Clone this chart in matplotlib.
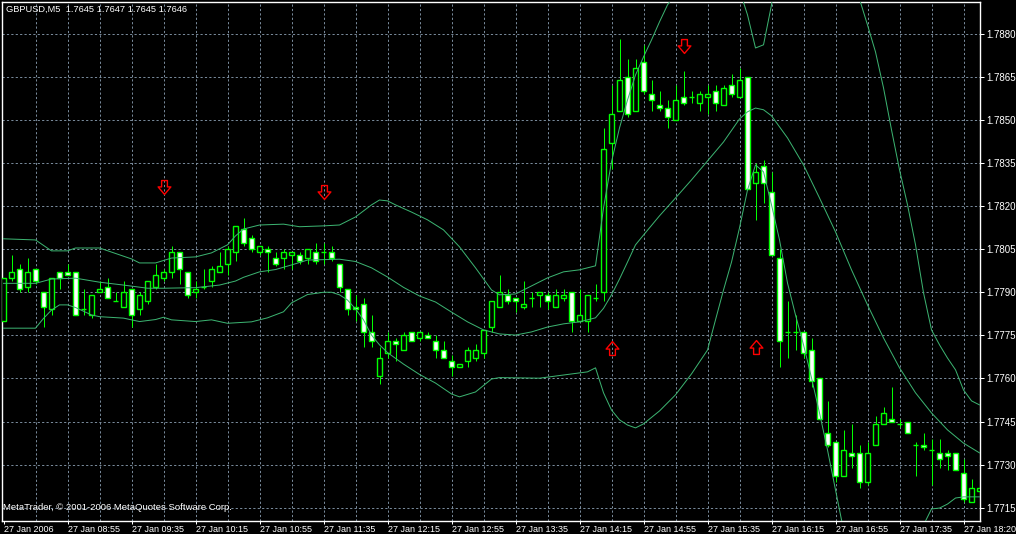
import matplotlib
matplotlib.use("Agg")
import matplotlib.pyplot as plt
import numpy as np
from matplotlib.path import Path

plt.rcParams['font.family'] = ['Liberation Sans', 'DejaVu Sans']

# GBPUSD M5, 27 Jan 2006, bars from 08:15
opens = [1.7780, 1.7795, 1.7798, 1.7792, 1.7798, 1.7790, 1.7784, 1.7797, 1.7797, 1.7797,
         1.7784, 1.7782, 1.7790, 1.7792, 1.7787, 1.7785, 1.7791, 1.7784, 1.7787, 1.7792,
         1.7795, 1.7797, 1.7804, 1.7797, 1.7790, 1.7792, 1.7794, 1.7797, 1.7800, 1.7804,
         1.7812, 1.7809, 1.7804, 1.7805, 1.7802, 1.7802, 1.7803, 1.7803, 1.7802, 1.7804,
         1.7804, 1.7804, 1.7800, 1.7791, 1.7785, 1.7786, 1.7776, 1.7761, 1.7769, 1.7773,
         1.7770, 1.7776, 1.7774, 1.7775, 1.7773, 1.7770, 1.7766, 1.7764, 1.7766, 1.7767,
         1.7769, 1.7778, 1.7785, 1.7789, 1.7788, 1.7785, 1.7788, 1.7789, 1.7789, 1.7785,
         1.7788, 1.7790, 1.7780, 1.7780, 1.7788, 1.7790, 1.7842, 1.7853, 1.7865, 1.7853,
         1.7870, 1.7859, 1.7855, 1.7854, 1.7850, 1.7858, 1.7858, 1.7856, 1.7858, 1.7860,
         1.7855, 1.7862, 1.7858, 1.7865, 1.7828, 1.7834, 1.7825, 1.7802, 1.7776, 1.7776,
         1.7776, 1.7770, 1.7760, 1.7741, 1.7738, 1.7726, 1.7734, 1.7734, 1.7724, 1.7737,
         1.7744, 1.7746, 1.7744, 1.7745, 1.7737, 1.7737, 1.7735, 1.7734, 1.7734, 1.7734,
         1.7727, 1.7717, 1.7721]
highs = [1.7795, 1.7803, 1.7800, 1.7802, 1.7798, 1.7790, 1.7795, 1.7797, 1.7800, 1.7797,
         1.7791, 1.7789, 1.7794, 1.7795, 1.7790, 1.7794, 1.7791, 1.7790, 1.7794, 1.7800,
         1.7798, 1.7806, 1.7804, 1.7797, 1.7794, 1.7798, 1.7799, 1.7804, 1.7806, 1.7813,
         1.7816, 1.7810, 1.7806, 1.7806, 1.7804, 1.7805, 1.7804, 1.7804, 1.7805, 1.7807,
         1.7807, 1.7806, 1.7800, 1.7791, 1.7789, 1.7788, 1.7782, 1.7771, 1.7776, 1.7774,
         1.7776, 1.7776, 1.7776, 1.7776, 1.7775, 1.7773, 1.7768, 1.7765, 1.7771, 1.7772,
         1.7777, 1.7787, 1.7796, 1.7791, 1.7788, 1.7794, 1.7790, 1.7790, 1.7790, 1.7791,
         1.7791, 1.7790, 1.7791, 1.7789, 1.7793, 1.7847, 1.7862, 1.7878, 1.7871, 1.7871,
         1.7876, 1.7864, 1.7860, 1.7857, 1.7862, 1.7867, 1.7860, 1.7860, 1.7862, 1.7862,
         1.7862, 1.7866, 1.7868, 1.7865, 1.7835, 1.7836, 1.7832, 1.7805, 1.7787, 1.7782,
         1.7776, 1.7774, 1.7760, 1.7752, 1.7738, 1.7742, 1.7744, 1.7737, 1.7738, 1.7747,
         1.7750, 1.7757, 1.7746, 1.7745, 1.7738, 1.7741, 1.7739, 1.7739, 1.7735, 1.7734,
         1.7732, 1.7725, 1.7726]
lows = [1.7780, 1.7794, 1.7790, 1.7790, 1.7793, 1.7778, 1.7782, 1.7791, 1.7796, 1.7782,
        1.7782, 1.7781, 1.7790, 1.7788, 1.7787, 1.7785, 1.7778, 1.7782, 1.7786, 1.7791,
        1.7794, 1.7795, 1.7793, 1.7788, 1.7788, 1.7791, 1.7792, 1.7797, 1.7796, 1.7801,
        1.7806, 1.7804, 1.7803, 1.7797, 1.7799, 1.7798, 1.7798, 1.7800, 1.7800, 1.7800,
        1.7800, 1.7801, 1.7790, 1.7782, 1.7780, 1.7771, 1.7771, 1.7758, 1.7767, 1.7766,
        1.7770, 1.7773, 1.7773, 1.7774, 1.7767, 1.7767, 1.7761, 1.7764, 1.7764, 1.7766,
        1.7767, 1.7776, 1.7785, 1.7786, 1.7783, 1.7784, 1.7785, 1.7785, 1.7784, 1.7785,
        1.7787, 1.7776, 1.7780, 1.7776, 1.7787, 1.7787, 1.7833, 1.7853, 1.7851, 1.7853,
        1.7859, 1.7853, 1.7853, 1.7847, 1.7850, 1.7855, 1.7856, 1.7853, 1.7852, 1.7853,
        1.7855, 1.7858, 1.7858, 1.7826, 1.7815, 1.7821, 1.7803, 1.7764, 1.7767, 1.7770,
        1.7767, 1.7757, 1.7746, 1.7736, 1.7724, 1.7726, 1.7729, 1.7722, 1.7723, 1.7737,
        1.7744, 1.7745, 1.7743, 1.7741, 1.7726, 1.7735, 1.7723, 1.7729, 1.7728, 1.7728,
        1.7717, 1.7717, 1.7719]
closes = [1.7795, 1.7797, 1.7791, 1.7797, 1.7794, 1.7785, 1.7795, 1.7795, 1.7796, 1.7782,
          1.7784, 1.7789, 1.7791, 1.7788, 1.7787, 1.7790, 1.7782, 1.7789, 1.7794, 1.7796,
          1.7797, 1.7804, 1.7798, 1.7789, 1.7791, 1.7792, 1.7798, 1.7799, 1.7805, 1.7813,
          1.7807, 1.7805, 1.7806, 1.7804, 1.7800, 1.7804, 1.7804, 1.7801, 1.7805, 1.7801,
          1.7804, 1.7802, 1.7792, 1.7784, 1.7784, 1.7776, 1.7773, 1.7767, 1.7773, 1.7772,
          1.7775, 1.7773, 1.7776, 1.7774, 1.7770, 1.7767, 1.7764, 1.7765, 1.7770, 1.7770,
          1.7777, 1.7787, 1.7790, 1.7787, 1.7787, 1.7786, 1.7788, 1.7790, 1.7787, 1.7789,
          1.7789, 1.7780, 1.7782, 1.7789, 1.7788, 1.7840, 1.7852, 1.7864, 1.7852, 1.7868,
          1.7860, 1.7857, 1.7854, 1.7851, 1.7857, 1.7856, 1.7858, 1.7859, 1.7859, 1.7856,
          1.7861, 1.7859, 1.7864, 1.7826, 1.7832, 1.7828, 1.7803, 1.7773, 1.7776, 1.7776,
          1.7769, 1.7759, 1.7746, 1.7737, 1.7726, 1.7735, 1.7733, 1.7724, 1.7734, 1.7744,
          1.7748, 1.7745, 1.7744, 1.7741, 1.7737, 1.7736, 1.7735, 1.7732, 1.7733, 1.7728,
          1.7718, 1.7722, 1.7722]

# Bollinger band lines (bar index, price)
upper_idx = [0, 4, 6, 8, 9, 12, 16, 17, 19, 21, 24, 26, 28, 29, 30, 32, 35, 37, 40, 42,
             43, 44, 45, 46, 47, 48, 49, 51, 53, 55, 57, 59, 61, 62, 64, 66, 68, 70, 72, 74,
             75, 76, 77, 78, 79, 80, 81, 82, 83, 84, 85, 86, 87, 88, 89, 90, 91, 92, 93, 94,
             95, 96, 97, 98, 99, 100, 101, 102, 103, 104, 105, 106, 107, 108, 109, 110, 111,
             112, 113, 114, 115, 116, 117, 118, 119, 120, 121, 122]
upper_val = [1.78086, 1.78082, 1.78044, 1.78044, 1.78054, 1.78054, 1.78016, 1.78002, 1.78002,
             1.78019, 1.78023, 1.78037, 1.78065, 1.78096, 1.78120, 1.78134, 1.78137, 1.78128,
             1.78131, 1.78134, 1.78148, 1.78162, 1.78183, 1.78204, 1.78221, 1.78218, 1.78204,
             1.78179, 1.78152, 1.78117, 1.78058, 1.77985, 1.77908, 1.77891, 1.77894, 1.77922,
             1.77950, 1.77971, 1.77978, 1.77992, 1.78193, 1.78354, 1.78472, 1.78569, 1.78656,
             1.78719, 1.78778, 1.78841, 1.78900, 1.78940, 1.78970, 1.78990, 1.78990, 1.78980,
             1.78965, 1.78950, 1.78945, 1.78952, 1.78865, 1.78750, 1.78761, 1.78900, 1.79120,
             1.79200, 1.79250, 1.79280, 1.79280, 1.79260, 1.79220, 1.79150, 1.79090, 1.79010,
             1.78920, 1.78830, 1.78736, 1.78611, 1.78465, 1.78326, 1.78204, 1.78065, 1.77898,
             1.77769, 1.77717, 1.77671, 1.77630, 1.77560, 1.77522, 1.77508]
middle_idx = [0, 4, 6, 9, 12, 15, 18, 20, 24, 27, 29, 30, 32, 34, 36, 38, 42, 44, 46, 48,
              50, 52, 54, 56, 58, 60, 62, 64, 66, 68, 70, 72, 74, 75, 76, 77, 78, 79, 80, 82,
              84, 86, 88, 90, 92, 93, 94, 95, 96, 98, 100, 102, 104, 106, 108, 110, 112, 114,
              116, 118, 120, 122]
middle_val = [1.77931, 1.77931, 1.77946, 1.77949, 1.77935, 1.77925, 1.77914, 1.77914, 1.77916,
              1.77925, 1.77939, 1.77952, 1.77971, 1.77979, 1.77995, 1.78012, 1.78015, 1.78007,
              1.77985, 1.77953, 1.77917, 1.77887, 1.77866, 1.77831, 1.77797, 1.77769, 1.77755,
              1.77751, 1.77762, 1.77779, 1.77790, 1.77797, 1.77811, 1.77844, 1.77891, 1.77946,
              1.78005, 1.78065, 1.78099, 1.78166, 1.78228, 1.78291, 1.78357, 1.78423, 1.78503,
              1.78528, 1.78541, 1.78535, 1.78514, 1.78437, 1.78343, 1.78228, 1.78110, 1.77978,
              1.77856, 1.77741, 1.77637, 1.77550, 1.77480, 1.77421, 1.77375, 1.77341]
lower_idx = [0, 4, 5, 6, 7, 8, 9, 11, 12, 15, 17, 19, 20, 21, 24, 26, 28, 31, 33, 35, 36,
             38, 40, 41, 42, 43, 44, 45, 46, 47, 48, 50, 52, 54, 56, 57, 59, 61, 62, 67, 70,
             73, 74, 75, 76, 77, 78, 79, 80, 82, 84, 86, 88, 89, 90, 91, 92, 93, 94, 95, 96,
             97, 98, 99, 100, 101, 102, 103, 104, 105, 106, 107, 108, 109, 110, 111, 112, 113,
             114, 115, 116, 117, 118, 119, 120, 122]
lower_val = [1.77775, 1.77775, 1.77809, 1.77838, 1.77856, 1.77856, 1.77847, 1.77821, 1.77815,
             1.77810, 1.77798, 1.77805, 1.77813, 1.77804, 1.77798, 1.77804, 1.77792, 1.77797,
             1.77811, 1.77832, 1.77863, 1.77892, 1.77900, 1.77900, 1.77891, 1.77873, 1.77842,
             1.77804, 1.77751, 1.77717, 1.77690, 1.77650, 1.77614, 1.77584, 1.77546, 1.77536,
             1.77553, 1.77598, 1.77603, 1.77601, 1.77612, 1.77623, 1.77637, 1.77550, 1.77490,
             1.77456, 1.77438, 1.77428, 1.77442, 1.77487, 1.77543, 1.77616, 1.77699, 1.77804,
             1.77908, 1.78005, 1.78124, 1.78256, 1.78343, 1.78319, 1.78204, 1.78082, 1.77932,
             1.77821, 1.77717, 1.77602, 1.77480, 1.77351, 1.77212, 1.77073, 1.77030, 1.77000,
             1.76980, 1.76970, 1.76970, 1.76980, 1.77000, 1.77030, 1.77060, 1.77090, 1.77146,
             1.77149, 1.77163, 1.77184, 1.77188, 1.77188]

# signal arrows
down_idx = [20, 40, 85]
down_val = [1.78267, 1.78249, 1.78757]
up_idx = [76, 94]
up_val = [1.77706, 1.77710]

price_levels = [1.7715, 1.7730, 1.7745, 1.7760, 1.7775, 1.7790, 1.7805,
                1.7820, 1.7835, 1.7850, 1.7865, 1.7880]
time_ticks = [0, 8, 16, 24, 32, 40, 48, 56, 64, 72, 80, 88, 96, 104, 112, 120]
time_labels = ["27 Jan 2006", "27 Jan 08:55", "27 Jan 09:35", "27 Jan 10:15",
               "27 Jan 10:55", "27 Jan 11:35", "27 Jan 12:15", "27 Jan 12:55",
               "27 Jan 13:35", "27 Jan 14:15", "27 Jan 14:55", "27 Jan 15:35",
               "27 Jan 16:15", "27 Jan 16:55", "27 Jan 17:35", "27 Jan 18:20"]

W, H = 1016, 534
fig = plt.figure(figsize=(W / 100, H / 100), dpi=100, facecolor='black')
ax = fig.add_axes([2 / W, 13 / H, 978 / W, 519 / H], facecolor='black')
ax.set_xlim(-0.1875, 122.06)
ax.set_ylim(1.77104, 1.78910)

px = 0.72  # one pixel in points
grid_kw = dict(color='#778899', lw=px, linestyle=(0, (2.2, 2.2)), zorder=0)
for p in price_levels:
    ax.axhline(p, **grid_kw)
for b in range(4, 123, 4):
    ax.axvline(b, **grid_kw)

o = np.array(opens)
c = np.array(closes)
idx = np.arange(len(o))
ax.vlines(idx, lows, highs, color='#00ff00', lw=px, zorder=2)
bull = c > o
bear = c < o
doji = c == o
ax.bar(idx[bull], (c - o)[bull], bottom=o[bull], width=0.55, color='black',
       edgecolor='#00ff00', linewidth=1.0, zorder=3)
ax.bar(idx[bear], (o - c)[bear], bottom=c[bear], width=0.55, color='white',
       edgecolor='#00ff00', linewidth=1.0, zorder=3)
ax.hlines(c[doji], idx[doji] - 0.3, idx[doji] + 0.3, color='#00ff00', lw=1.0, zorder=3)

band_kw = dict(color='#3cb371', lw=px, zorder=4)
ax.plot(upper_idx, upper_val, **band_kw)
ax.plot(middle_idx, middle_val, **band_kw)
ax.plot(lower_idx, lower_val, **band_kw)

down_arrow = Path([(-2.5, 6), (2.5, 6), (2.5, 0.5), (5.5, 0.5), (0, -6), (-5.5, 0.5),
                   (-2.5, 0.5), (-2.5, 6)], closed=True)
up_arrow = Path([(-2.5, -6), (2.5, -6), (2.5, -0.5), (5.5, -0.5), (0, 6), (-5.5, -0.5),
                 (-2.5, -0.5), (-2.5, -6)], closed=True)
ax.plot(down_idx, down_val, ls='none', marker=down_arrow, ms=10, mfc='none',
        mec='#ff0000', mew=1.0, zorder=5)
ax.plot(up_idx, up_val, ls='none', marker=up_arrow, ms=10, mfc='none',
        mec='#ff0000', mew=1.0, zorder=5)

for s in ax.spines.values():
    s.set_color('white')
    s.set_linewidth(1.0)

ax.yaxis.tick_right()
ax.set_yticks(price_levels)
ax.set_yticklabels([f"{p:.4f}" for p in price_levels])
ax.tick_params(axis='y', colors='white', length=2.9, width=px, pad=1.6, labelsize=7)
ax.set_xticks(time_ticks)
ax.set_xticklabels(time_labels, ha='left')
ax.tick_params(axis='x', colors='white', length=2.2, width=px, pad=1.0, labelsize=6.5)

fig.text(6 / W, 1 - 5 / H, "GBPUSD,M5  1.7645 1.7647 1.7645 1.7646", color='white',
         fontsize=6.7, va='top', ha='left')
fig.text(3 / W, 1 - 510 / H, "MetaTrader, \u00a9 2001-2006 MetaQuotes Software Corp.",
         color='white', fontsize=6.8, va='baseline', ha='left')

fig.savefig("out.png", dpi=100, facecolor='black')
